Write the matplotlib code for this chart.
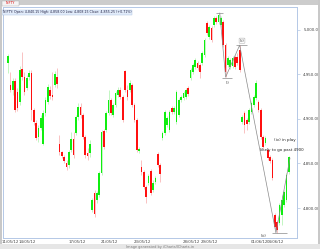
import matplotlib
matplotlib.use('Agg')
import matplotlib.pyplot as plt
from matplotlib.patches import Rectangle

opens = [4962.9, 4938.2, 4932.6, 4942.7, 4930.3, 4919.1, 4956.2, 4947.2, 4934.8, 4947.2,
         4951.7, 4910.1, 4895.5, 4879.8, 4889.9, 4871.9, 4906.7, 4919.1, 4932.6, 4927.0,
         4938.2, 4947.2, 4871.9, 4862.9, 4857.3, 4850.6, 4848.3, 4865.2, 4877.5, 4884.3,
         4902.2, 4913.5, 4904.5, 4879.8, 4861.8, 4861.8, 4797.8, 4816.9, 4809.0, 4814.6,
         4839.3, 4886.5, 4887.6, 4906.7, 4921.3, 4904.5, 4915.7, 4927.0, 4932.6, 4924.7,
         4953.9, 4932.6, 4932.6, 4938.2, 4915.7, 4898.9, 4864.0, 4846.1, 4840.4, 4823.6,
         4828.1, 4841.6, 4820.2, 4829.2, 4860.7, 4848.3, 4878.7, 4884.3, 4893.3, 4887.6,
         4912.4, 4907.9, 4896.6, 4904.5, 4921.3, 4923.6, 4924.7, 4934.8, 4946.1, 4952.8,
         4958.4, 4962.9, 4960.7, 4962.9, 4971.9, 5007.9, 4992.1, 5002.2, 5005.6, 5013.5,
         5009.0, 5005.6, 5009.0, 4983.1, 4960.7, 4958.4, 4959.6, 4969.7, 4969.7, 4977.5,
         4896.6, 4906.7, 4898.9, 4896.6, 4907.9, 4915.7, 4923.6, 4919.1, 4910.1, 4879.8,
         4873.0, 4865.2, 4857.3, 4853.9, 4792.1, 4784.3, 4783.1, 4792.1, 4803.4, 4809.0,
         4840.4]
highs = [4973.0, 4952.8, 4946.1, 4946.1, 4934.8, 4959.6, 4975.3, 4952.8, 4949.4, 4955.1,
         4955.1, 4912.4, 4898.9, 4893.3, 4904.5, 4910.1, 4924.7, 4939.3, 4937.1, 4952.8,
         4953.9, 4957.3, 4882.0, 4864.0, 4859.6, 4853.9, 4865.2, 4885.4, 4885.4, 4904.5,
         4918.0, 4918.0, 4906.7, 4882.0, 4867.4, 4876.4, 4811.2, 4820.2, 4819.1, 4841.6,
         4887.6, 4888.8, 4909.0, 4932.6, 4923.6, 4918.0, 4931.5, 4936.0, 4936.0, 4927.0,
         4955.1, 4938.2, 4943.8, 4940.4, 4918.0, 4901.1, 4868.5, 4853.9, 4842.7, 4825.8,
         4838.2, 4843.8, 4831.5, 4836.0, 4862.9, 4850.6, 4886.5, 4910.1, 4903.4, 4910.1,
         4914.6, 4914.6, 4932.6, 4923.6, 4927.0, 4931.5, 4934.8, 4937.1, 4957.3, 4962.9,
         4968.5, 4965.2, 4962.9, 4976.4, 4991.0, 5010.1, 5005.6, 5004.5, 5015.7, 5015.7,
         5019.1, 5015.7, 5011.2, 4985.4, 4970.8, 4968.5, 4970.8, 4971.9, 4974.2, 4983.1,
         4904.5, 4909.0, 4901.1, 4912.4, 4920.2, 4927.0, 4943.8, 4921.3, 4912.4, 4882.0,
         4880.9, 4867.4, 4859.6, 4856.2, 4794.4, 4786.5, 4805.6, 4814.6, 4820.2, 4839.3,
         4858.0]
lows = [4951.7, 4930.3, 4927.0, 4907.9, 4909.0, 4915.7, 4943.8, 4927.0, 4932.6, 4943.8,
        4898.9, 4893.3, 4876.4, 4874.2, 4887.6, 4870.8, 4903.4, 4916.8, 4922.5, 4921.3,
        4936.0, 4934.8, 4859.6, 4856.2, 4850.6, 4842.7, 4844.9, 4862.9, 4856.2, 4882.0,
        4898.9, 4901.1, 4877.5, 4856.2, 4853.9, 4857.3, 4795.5, 4789.9, 4805.6, 4812.4,
        4837.1, 4866.3, 4885.4, 4904.5, 4904.5, 4902.2, 4913.5, 4924.7, 4922.5, 4896.6,
        4930.3, 4921.3, 4930.3, 4913.5, 4896.6, 4862.9, 4861.8, 4837.1, 4821.3, 4805.6,
        4825.8, 4814.6, 4818.0, 4827.0, 4846.1, 4829.2, 4876.4, 4882.0, 4891.0, 4885.4,
        4905.6, 4905.6, 4894.4, 4902.2, 4919.1, 4921.3, 4922.5, 4925.8, 4943.8, 4950.6,
        4956.2, 4955.1, 4946.1, 4960.7, 4969.7, 4994.4, 4989.9, 4986.5, 5003.4, 5006.7,
        5006.7, 5003.4, 4980.9, 4947.2, 4958.4, 4956.2, 4957.3, 4956.2, 4960.7, 4952.8,
        4894.4, 4884.3, 4887.6, 4894.4, 4905.6, 4913.5, 4921.3, 4907.9, 4877.5, 4866.3,
        4870.8, 4854.0, 4850.6, 4831.5, 4776.4, 4771.9, 4780.9, 4780.9, 4801.1, 4806.7,
        4838.2]
closes = [4970.8, 4932.6, 4942.7, 4910.1, 4912.4, 4955.1, 4947.2, 4930.3, 4946.1, 4951.7,
          4910.1, 4896.6, 4878.7, 4889.9, 4901.1, 4906.7, 4921.3, 4936.0, 4925.8, 4924.7,
          4950.6, 4939.3, 4862.9, 4858.4, 4852.8, 4846.1, 4862.9, 4877.5, 4859.6, 4902.2,
          4913.5, 4904.5, 4879.8, 4859.6, 4858.4, 4871.9, 4809.0, 4793.3, 4816.9, 4839.3,
          4885.4, 4868.5, 4906.7, 4921.3, 4906.7, 4915.7, 4929.2, 4932.6, 4924.7, 4898.9,
          4932.6, 4924.7, 4940.4, 4915.7, 4898.9, 4865.2, 4866.3, 4840.4, 4823.6, 4812.4,
          4836.0, 4816.9, 4828.1, 4833.7, 4848.3, 4838.2, 4884.3, 4907.9, 4901.1, 4907.9,
          4907.9, 4912.4, 4930.3, 4921.3, 4924.7, 4929.2, 4932.6, 4928.1, 4955.1, 4960.7,
          4966.3, 4957.3, 4952.8, 4974.2, 4988.8, 4996.6, 5003.4, 4988.8, 5013.5, 5009.0,
          5016.9, 5013.5, 4983.1, 4952.8, 4968.5, 4966.3, 4968.5, 4958.4, 4962.9, 4955.1,
          4902.2, 4893.3, 4894.4, 4910.1, 4918.0, 4924.7, 4940.4, 4910.1, 4879.8, 4868.5,
          4878.7, 4856.2, 4852.8, 4833.7, 4778.7, 4775.3, 4803.4, 4809.0, 4818.0, 4837.1,
          4857.3]

date_tick_pos = [1.1, 8.3, 29.5, 43.4, 57.5, 78.2, 85.9, 107.5, 114.3]
date_labels = ['11/05/12', '14/05/12', '17/05/12', '21/05/12', '23/05/12',
               '28/05/12', '29/05/12', '01/06/12', '04/06/12']
price_ticks = [4800, 4850, 4900, 4950, 5000]

wave_x = [90.5, 93, 99, 114.5, 120.5]
wave_y = [5019, 4947, 4983, 4772, 4856]
wave_names = ['(i)', '(ii)', '(iii)']

header = 'NIFTY: Open: 4,840.15 High: 4,858.00 Low: 4,808.15 Close: 4,855.25 (+0.71%)'

W, H = 320, 249
fig = plt.figure(figsize=(W / 100, H / 100), dpi=100)
fig.patch.set_facecolor('white')

def fx(px):
    return px / W

def fy(py):
    return 1 - py / H

# frame decorations
fig.patches.append(Rectangle((0, fy(5.5)), 1, 5.5 / H, transform=fig.transFigure,
                             facecolor='#cccccc', edgecolor='none', zorder=0))
fig.patches.append(Rectangle((fx(2), fy(6)), 17 / W, 5 / H, transform=fig.transFigure,
                             facecolor='#f4f4f4', edgecolor='#aaaaaa', lw=0.3, zorder=1))
fig.text(fx(10.5), fy(3.3), 'NIFTY', color='#dd0000', fontsize=2.3, ha='center', va='center')
fig.patches.append(Rectangle((0, 0), 2 / W, 1, transform=fig.transFigure,
                             facecolor='#c8c8c8', edgecolor='none', zorder=0))
fig.patches.append(Rectangle((fx(318), 0), 2 / W, 1, transform=fig.transFigure,
                             facecolor='#c8c8c8', edgecolor='none', zorder=0))
fig.patches.append(Rectangle((0, 0), 1, 5 / H, transform=fig.transFigure,
                             facecolor='#e6e6e6', edgecolor='none', zorder=0))
fig.text(fx(160), fy(246.5), 'Image generated by iCharts/ICharts.in', color='#777777',
         fontsize=2.5, ha='center', va='center')

ax = fig.add_axes([fx(3), fy(238), (297 - 3) / W, (238 - 7) / H])
ax.set_facecolor('white')

for i in range(len(opens)):
    o, h, l, c = opens[i], highs[i], lows[i], closes[i]
    up = c >= o
    body = '#10ee10' if up else '#ff1010'
    wick = '#b8f5b8' if up else '#f8b8b8'
    ax.vlines(i, l, h, color=wick, lw=0.6, zorder=2)
    ax.bar(i, max(abs(c - o), 1.2), bottom=min(o, c), width=0.72, color=body,
           linewidth=0, zorder=3)

# wave annotation
ax.plot(wave_x, wave_y, color='#8a8a8a', lw=0.5, zorder=4)
ax.hlines([5019, 4946, 4983, 4772], [88.7, 91.5, 97.4, 112.8], [91.7, 95.7, 102.1, 119.2],
          color='#8a8a8a', lw=0.5, zorder=4)
ax.text(94, 4940, wave_names[0], fontsize=2.6, ha='center', va='center', color='#333333')
ax.text(100, 4988, wave_names[1], fontsize=2.6, ha='center', va='center', color='#333333',
        bbox=dict(boxstyle='round,pad=0.15', fc='white', ec='#999999', lw=0.3))
ax.text(109.3, 4769, wave_names[2], fontsize=2.6, ha='center', va='center', color='#333333')
ax.text(118.2, 4876.5, '(iv) in play', fontsize=2.9, ha='center', va='center',
        color='#222222', clip_on=False, zorder=5)
ax.text(116.8, 4865.2, 'likely to go past 4900', fontsize=2.9, ha='center', va='center',
        color='#222222', clip_on=False, zorder=5)

ax.text(0.0, 0.985, header, transform=ax.transAxes, fontsize=2.35, ha='left', va='top',
        color='#222244',
        bbox=dict(boxstyle='square,pad=0.25', fc='#e2ecfa', ec='#a8c0e0', lw=0.3))

ax.set_xlim(-2.14, 123.5)
ax.set_ylim(4766.3, 5025.8)

ax.yaxis.tick_right()
ax.set_yticks(price_ticks)
ax.set_yticklabels([f'{v:,.2f}' for v in price_ticks])
ax.tick_params(axis='y', length=2, width=0.4, color='#9fb8dc', labelsize=2.9,
               labelcolor='#444444', pad=2.5)
ax.set_xticks(date_tick_pos)
ax.set_xticklabels(date_labels)
ax.tick_params(axis='x', length=0, labelsize=2.8, labelcolor='#444444', pad=1.2)

for s in ax.spines.values():
    s.set_color('#b4c8e6')
    s.set_linewidth(0.7)

fig.savefig('out.png', dpi=100, facecolor=fig.get_facecolor())
